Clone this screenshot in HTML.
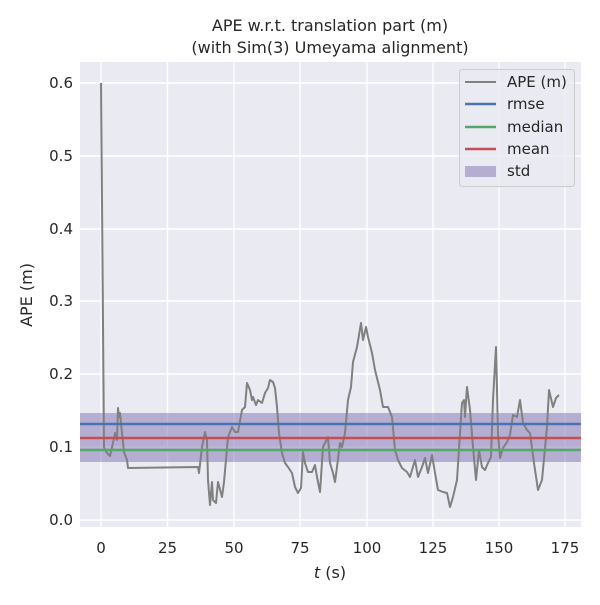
<!DOCTYPE html><html><head><style>body{margin:0;background:#fff}</style></head><body>
<svg width="600" height="600" xmlns="http://www.w3.org/2000/svg" font-family="'DejaVu Sans','Liberation Sans',sans-serif">
<rect x="80" y="62" width="501" height="465" fill="#EAEAF2"/>
<g stroke="#fff" stroke-width="1.4">
<line x1="101" y1="62" x2="101" y2="527"/><line x1="167.5" y1="62" x2="167.5" y2="527"/><line x1="234" y1="62" x2="234" y2="527"/><line x1="300" y1="62" x2="300" y2="527"/><line x1="367" y1="62" x2="367" y2="527"/><line x1="433" y1="62" x2="433" y2="527"/><line x1="499" y1="62" x2="499" y2="527"/><line x1="565" y1="62" x2="565" y2="527"/>
<line x1="80" y1="520" x2="581" y2="520"/><line x1="80" y1="447" x2="581" y2="447"/><line x1="80" y1="374" x2="581" y2="374"/><line x1="80" y1="301" x2="581" y2="301"/><line x1="80" y1="229" x2="581" y2="229"/><line x1="80" y1="156" x2="581" y2="156"/><line x1="80" y1="83" x2="581" y2="83"/>
</g>
<rect x="80" y="413" width="501" height="49" fill="#8172B2" fill-opacity="0.5"/>
<polyline fill="none" stroke="#808080" stroke-width="2" stroke-linejoin="round" points="101,83 102,200 104,447 105,450 107,453 110,456 113,443 115,433 117,440 118,408 119,417 120,413 122,433 124,452 127,460 128,468 198,467 199,473 202,447 205,432 207,440 208,480 210,505 212,482 213,500 216,503 218,482 222,497 224,482 228,437 232,427 235,432 238,432 242,410 245,407 247,383 250,390 252,400 253,397 256,405 258,400 262,403 265,393 268,388 270,380 273,382 275,388 277,407 279,433 282,453 285,463 288,467 292,473 295,487 298,493 301,488 303,452 305,463 308,472 312,472 315,465 317,477 320,492 323,447 328,437 330,463 333,473 335,482 337,467 340,443 342,447 345,433 348,400 351,387 353,362 357,347 361,323 363,340 366,327 368,337 372,353 375,370 380,390 383,407 388,407 392,417 395,450 398,460 402,468 407,472 410,477 415,460 418,477 422,467 425,458 428,473 432,455 435,473 438,490 443,492 447,493 450,507 453,497 457,480 460,433 462,403 464,400 465,417 467,387 470,410 473,447 476,480 479,450 482,467 485,470 488,463 491,457 493,400 496,347 498,433 500,458 503,448 507,442 510,435 513,415 517,417 520,400 523,423 527,430 530,433 534,463 538,490 542,480 547,427 549,390 553,407 556,398 559,395"/>
<line x1="80" y1="424" x2="581" y2="424" stroke="#4C72B0" stroke-width="2.5"/>
<line x1="80" y1="438" x2="581" y2="438" stroke="#C44E52" stroke-width="2.5"/>
<line x1="80" y1="450" x2="581" y2="450" stroke="#55A868" stroke-width="2.5"/>
<g font-size="15" fill="#262626" text-anchor="end">
<text x="73" y="525">0.0</text><text x="73" y="452">0.1</text><text x="73" y="379">0.2</text><text x="73" y="306">0.3</text><text x="73" y="234">0.4</text><text x="73" y="161">0.5</text><text x="73" y="88">0.6</text>
</g>
<g font-size="15" fill="#262626" text-anchor="middle">
<text x="101" y="553">0</text><text x="167.5" y="553">25</text><text x="234" y="553">50</text><text x="300" y="553">75</text><text x="367" y="553">100</text><text x="433" y="553">125</text><text x="499" y="553">150</text><text x="565" y="553">175</text>
<text x="330" y="578" font-size="16"><tspan font-style="italic">t</tspan> (s)</text>
<text x="330" y="31" font-size="16">APE w.r.t. translation part (m)</text>
<text x="330" y="53" font-size="16">(with Sim(3) Umeyama alignment)</text>
<text transform="translate(32,295) rotate(-90)" font-size="16">APE (m)</text>
</g>
<rect x="459.5" y="69.5" width="115" height="117" rx="3" fill="#EAEAF2" fill-opacity="0.8" stroke="#ccc"/>
<line x1="465" y1="82" x2="496" y2="82" stroke="#808080" stroke-width="2"/>
<line x1="465" y1="104" x2="496" y2="104" stroke="#4C72B0" stroke-width="2.5"/>
<line x1="465" y1="127" x2="496" y2="127" stroke="#55A868" stroke-width="2.5"/>
<line x1="465" y1="149" x2="496" y2="149" stroke="#C44E52" stroke-width="2.5"/>
<rect x="465" y="166" width="31" height="11" fill="#8172B2" fill-opacity="0.5"/>
<g font-size="15" fill="#262626">
<text x="507" y="87">APE (m)</text><text x="507" y="109">rmse</text><text x="507" y="132">median</text><text x="507" y="154">mean</text><text x="507" y="176">std</text>
</g>
</svg>
</body></html>
